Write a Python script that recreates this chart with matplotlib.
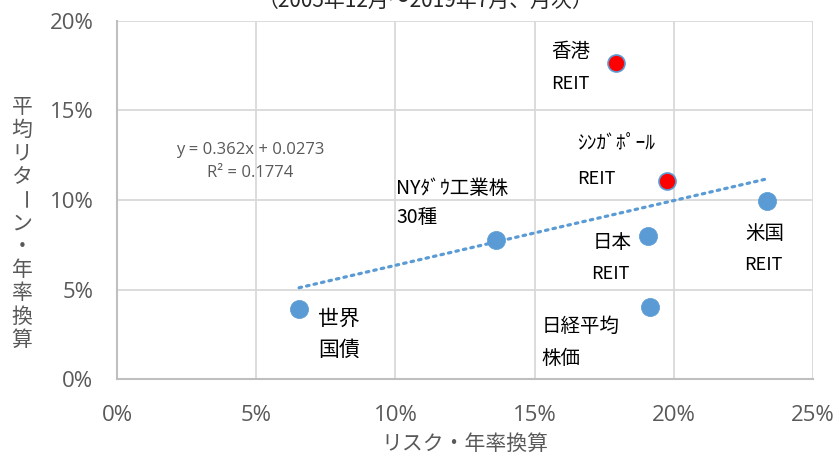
import matplotlib
matplotlib.use('Agg')
from matplotlib import pyplot as plt
from matplotlib.ticker import PercentFormatter, MultipleLocator

plt.rcParams['font.family'] = ['Noto Sans CJK JP', 'DejaVu Sans']

# リスク(x)・リターン(y)、年率換算 %
names = ['世界国債', 'NYダウ', '香港REIT', 'シンガポールREIT', '日本REIT', '日経平均株価', '米国REIT']
risk = [6.54, 13.61, 17.92, 19.76, 19.07, 19.15, 23.35]
ret = [3.91, 7.77, 17.65, 11.06, 7.99, 4.02, 9.94]
is_reit_asia = [False, False, True, True, False, False, False]

slope = 0.362
intercept = 0.0273
r2 = 0.1774

blue = '#5B9BD5'
gray = '#595959'

fig = plt.figure(figsize=(8.4, 4.54), dpi=100)
ax = fig.add_axes([117 / 840, 75 / 454, 696 / 840, 358 / 454])

# 近似直線
xs = [min(risk), max(risk)]
ys = [(slope * x / 100 + intercept) * 100 for x in xs]
ax.plot(xs, ys, color=blue, lw=2.3, linestyle=(0, (0.8, 1.6)), dash_capstyle='round', zorder=2)

for x, y, red in zip(risk, ret, is_reit_asia):
    if red:
        ax.scatter(x, y, s=150, c='#FF0000', edgecolors=blue, linewidths=1.2, zorder=3)
    else:
        ax.scatter(x, y, s=170, c=blue, edgecolors=blue, linewidths=0.5, zorder=3)

px = 27.84
py = 17.9
def d(xp, yp):
    return (xp - 117) / px, (379 - yp) / py

# ラベル: (文字, x, y, サイズ, ha)
labels = [
    ('世界', 318, 319, 15, 'left'), ('国債', 318, 350, 15, 'left'),
    ('NYﾀﾞｳ工業株', 396, 188, 14, 'left'), ('30種', 396, 218, 14, 'left'),
    ('香港', 551, 52, 14, 'left'), ('REIT', 551, 84, 13, 'left'),
    ('ｼﾝｶﾞﾎﾟｰﾙ', 577, 144, 14, 'left'), ('REIT', 577, 179, 13, 'left'),
    ('日本', 612, 243, 14, 'center'), ('REIT', 610, 274, 13, 'center'),
    ('日経平均', 542, 326, 14, 'left'), ('株価', 541, 358, 14, 'left'),
    ('米国', 765, 234, 14, 'center'), ('REIT', 763, 265, 13, 'center'),
]
for t, xp, yp, sz, ha in labels:
    x, y = d(xp, yp)
    ax.text(x, y, t, fontsize=sz, ha=ha, va='center', color='black', zorder=4)

x, y = d(250, 150)
ax.text(x, y, 'y = 0.362x + 0.0273', fontsize=12, ha='center', va='center', color=gray,
        family=['Open Sans', 'DejaVu Sans'])
x, y = d(250, 173)
ax.text(x, y, 'R² = 0.1774', fontsize=12, ha='center', va='center', color=gray,
        family=['Open Sans', 'DejaVu Sans'])

ax.set_xlim(0, 25)
ax.set_ylim(0, 20)
ax.xaxis.set_major_locator(MultipleLocator(5))
ax.yaxis.set_major_locator(MultipleLocator(5))
ax.xaxis.set_major_formatter(PercentFormatter(decimals=0))
ax.yaxis.set_major_formatter(PercentFormatter(decimals=0))
ax.tick_params(length=0, labelsize=16, labelcolor=gray)
ax.tick_params(axis='x', pad=19)
ax.tick_params(axis='y', pad=17)
for lab in ax.get_xticklabels() + ax.get_yticklabels():
    lab.set_family(['Open Sans', 'DejaVu Sans'])
ax.grid(True, color='#D9D9D9', lw=1.3)
ax.set_axisbelow(True)
ax.spines['top'].set_visible(False)
ax.spines['right'].set_visible(False)
ax.spines['left'].set_color('#BFBFBF')
ax.spines['bottom'].set_color('#BFBFBF')
ax.spines['left'].set_linewidth(1.5)
ax.spines['bottom'].set_linewidth(1.5)

# タイトル (上端で切れている)
fig.text(425 / 840, 1 - 1 / 454, '（2005年12月～2019年7月、月次）', fontsize=15,
         ha='center', va='center', color='#262626')

# 縦書きの軸ラベル
ylab = '平均リターン・年率換算'
top = 97
step = 23.3
for i, ch in enumerate(ylab):
    yy = top + i * step + 10
    rot = -90 if ch == 'ー' else 0
    fig.text(22 / 840, 1 - yy / 454, ch, fontsize=15, ha='center', va='center',
             color=gray, rotation=rot)

fig.text(465 / 840, 1 - 444 / 454, 'リスク・年率換算', fontsize=15, ha='center',
         va='center', color=gray)

fig.savefig('out.png', dpi=100)
